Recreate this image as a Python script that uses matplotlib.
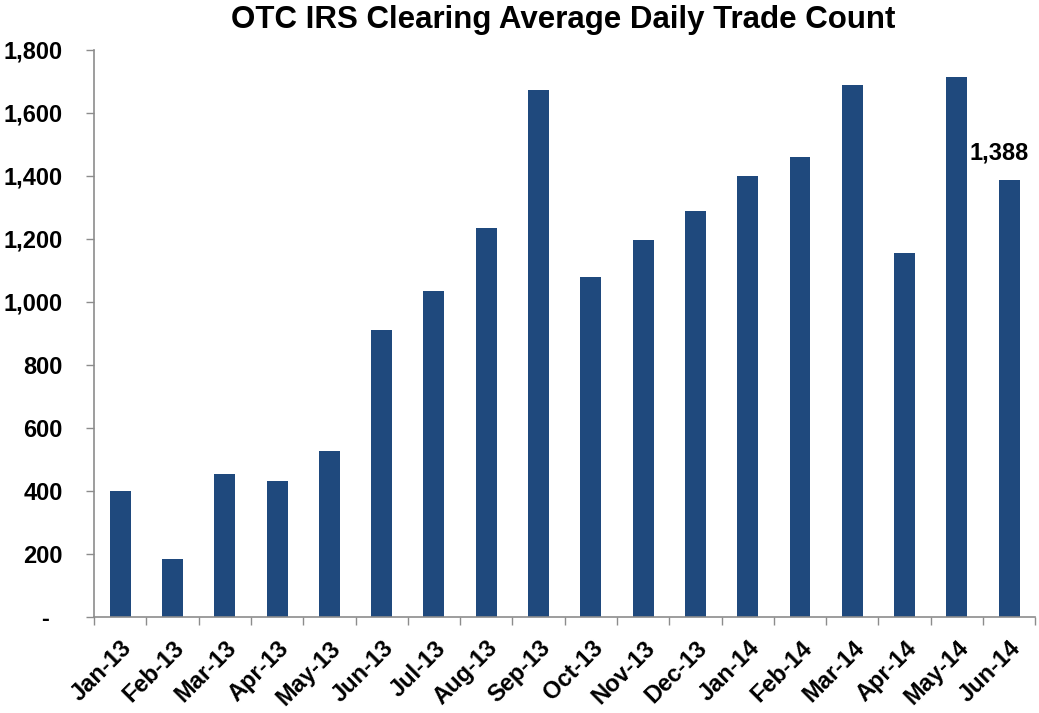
import numpy as np
from matplotlib import pyplot as plt
from matplotlib.ticker import FixedLocator

months = ['Jan-13', 'Feb-13', 'Mar-13', 'Apr-13', 'May-13', 'Jun-13',
          'Jul-13', 'Aug-13', 'Sep-13', 'Oct-13', 'Nov-13', 'Dec-13',
          'Jan-14', 'Feb-14', 'Mar-14', 'Apr-14', 'May-14', 'Jun-14']
trade_count = [400, 184, 453, 432, 527, 911, 1035, 1236, 1671, 1078,
               1195, 1290, 1401, 1461, 1689, 1155, 1715, 1388]
y_ticks = [0, 200, 400, 600, 800, 1000, 1200, 1400, 1600, 1800]
y_labels = ['-  ', '200', '400', '600', '800', '1,000', '1,200', '1,400',
            '1,600', '1,800']

plt.rcParams['font.family'] = ['Liberation Sans', 'DejaVu Sans']
plt.rcParams['font.weight'] = 'bold'

fig = plt.figure(figsize=(10.39, 7.13), dpi=100)
ax = fig.add_axes([0.0905, 0.1346, 0.906, 0.7955])

x = np.arange(len(months))
ax.bar(x, trade_count, width=0.4, color='#1f497d')

ax.set_xlim(-0.5, len(months) - 0.5)
ax.set_ylim(0, 1800)

ax.set_yticks(y_ticks)
ax.set_yticklabels(y_labels, fontsize=17, fontweight='bold')
ax.tick_params(axis='y', length=6, width=1, color='#8c8c8c', pad=16.5)

ax.set_xticks(x)
ax.set_xticklabels(months, rotation=45, ha='right', rotation_mode='anchor',
                   fontsize=17, fontweight='bold')
ax.tick_params(axis='x', which='major', length=0, pad=14)
ax.xaxis.set_minor_locator(FixedLocator(np.arange(len(months) + 1) - 0.5))
ax.tick_params(axis='x', which='minor', length=6, width=1, color='#8c8c8c')

for side in ['top', 'right']:
    ax.spines[side].set_visible(False)
for side in ['left', 'bottom']:
    ax.spines[side].set_color('#8c8c8c')
    ax.spines[side].set_linewidth(1.2)

# label on the last month
ax.annotate('1,388', (x[-1], trade_count[-1]), xytext=(-7, 11),
            textcoords='offset points', ha='center', va='bottom',
            fontsize=17, fontweight='bold')

fig.suptitle('OTC IRS Clearing Average Daily Trade Count', x=0.542, y=0.993,
             va='top', fontsize=22.5, fontweight='bold')

plt.savefig('out.png', dpi=100)
